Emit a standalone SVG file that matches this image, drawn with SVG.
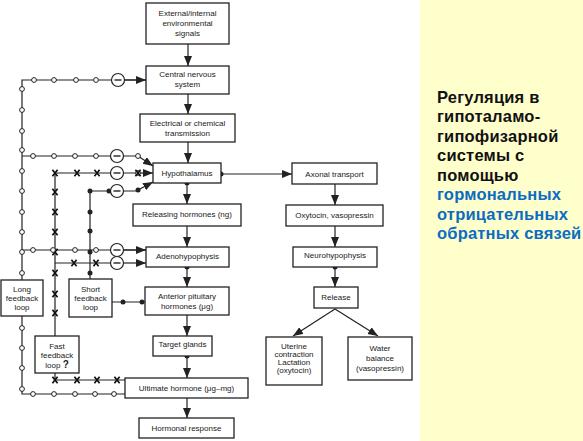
<svg xmlns="http://www.w3.org/2000/svg" xmlns:xlink="http://www.w3.org/1999/xlink" width="583" height="441" viewBox="0 0 583 441">
<style>
.box{fill:#fff;stroke:#222;stroke-width:1.3}
.t{font-family:"Liberation Sans",Arial,sans-serif;font-size:8px;fill:#1a1a1a;text-anchor:middle}
.ln{stroke:#222;stroke-width:1.2;fill:none}
.ar{stroke:#222;stroke-width:1.2;fill:none;marker-end:url(#ah)}
.rt{font-family:"Liberation Sans",Arial,sans-serif;font-size:16.5px;font-weight:bold;letter-spacing:0.2px}
</style>
<defs>
<marker id="ah" markerUnits="userSpaceOnUse" markerWidth="11" markerHeight="9" refX="10" refY="4" orient="auto">
<path d="M0,0 L10,4 L0,8 z" fill="#222"/>
</marker>
<g id="oc"><circle r="2.4" fill="#fff" stroke="#222" stroke-width="1"/></g>
<g id="dt"><circle r="2.5" fill="#222"/></g>
<g id="xm"><path d="M-2.6,-3.2 L2.6,3.2 M2.6,-3.2 L-2.6,3.2" stroke="#111" stroke-width="1.7"/></g>
<g id="mn"><circle r="6.5" fill="#fff" stroke="#222" stroke-width="1.2"/><line x1="-3.5" y1="0" x2="3.5" y2="0" stroke="#222" stroke-width="1.4"/></g>
</defs>
<rect x="0" y="0" width="583" height="441" fill="#fff"/>
<rect x="420" y="0" width="163" height="441" fill="#FFFFCC"/>

<g id="connectors">
<!-- main column -->
<line class="ar" x1="188" y1="44" x2="188" y2="66"/>
<line class="ar" x1="188" y1="94" x2="188" y2="114"/>
<line class="ar" x1="188" y1="142" x2="188" y2="163"/>
<line class="ar" x1="187" y1="183" x2="187" y2="204"/>
<line class="ar" x1="187" y1="226" x2="187" y2="247"/>
<line class="ar" x1="187" y1="267" x2="187" y2="287"/>
<line class="ar" x1="187" y1="315" x2="187" y2="336"/>
<line class="ar" x1="187" y1="356" x2="187" y2="378"/>
<line class="ar" x1="187" y1="398" x2="187" y2="418"/>
<use href="#dt" x="187" y="183"/>
<use href="#dt" x="187" y="267"/>
<use href="#dt" x="187" y="356"/>
<!-- right column -->
<line class="ar" x1="221" y1="174" x2="292" y2="174"/>
<use href="#dt" x="221" y="174"/>
<line class="ar" x1="335" y1="184" x2="335" y2="205"/>
<line class="ar" x1="335" y1="226" x2="335" y2="247"/>
<line class="ar" x1="335" y1="267" x2="335" y2="287"/>
<use href="#dt" x="335" y="267"/>
<line class="ar" x1="335" y1="309" x2="293" y2="336"/>
<line class="ar" x1="335" y1="309" x2="378" y2="336"/>

<!-- long loop (open circles) -->
<path class="ln" d="M22,280 L22,80 L146,80"/>
<line class="ar" x1="124" y1="80" x2="146" y2="80"/>
<path class="ln" d="M22,156 L138,156"/>
<line class="ar" x1="138" y1="156" x2="153" y2="166"/>
<path class="ln" d="M22,250 L146,250"/>
<line class="ar" x1="124" y1="250" x2="146" y2="250"/>
<path class="ln" d="M22,316 L22,394 L125,394"/>
<use href="#oc" x="34" y="80"/><use href="#oc" x="54" y="80"/><use href="#oc" x="76" y="80"/><use href="#oc" x="96" y="80"/>
<use href="#mn" x="118" y="80"/>
<use href="#oc" x="33" y="156"/><use href="#oc" x="54" y="156"/><use href="#oc" x="75" y="156"/><use href="#oc" x="96" y="156"/>
<use href="#mn" x="117" y="156"/><use href="#oc" x="138" y="156"/>
<use href="#oc" x="22" y="89"/><use href="#oc" x="22" y="110"/><use href="#oc" x="22" y="131"/><use href="#oc" x="22" y="150"/>
<use href="#oc" x="22" y="171"/><use href="#oc" x="22" y="191"/><use href="#oc" x="22" y="212"/><use href="#oc" x="22" y="232"/>
<use href="#oc" x="22" y="252"/><use href="#oc" x="22" y="273"/>
<use href="#oc" x="22" y="328"/><use href="#oc" x="22" y="348"/><use href="#oc" x="22" y="368"/><use href="#oc" x="22" y="389"/>
<use href="#oc" x="33" y="394"/><use href="#oc" x="54" y="394"/><use href="#oc" x="75" y="394"/><use href="#oc" x="95" y="394"/><use href="#oc" x="114" y="394"/>

<!-- fast loop (crosses) -->
<path class="ln" d="M55,336 L55,173 L138,173"/>
<line class="ar" x1="138" y1="173" x2="153" y2="173"/>
<path class="ln" d="M55,263 L124,263"/>
<line class="ar" x1="124" y1="263" x2="146" y2="263"/>
<path class="ln" d="M55,373 L55,380 L125,380"/>

<!-- short loop (filled dots) -->
<path class="ln" d="M90,279 L90,191 L138,191"/>
<line class="ar" x1="138" y1="190" x2="153" y2="182"/>
<path class="ln" d="M112,302 L145,302"/>

<!-- markers drawn over lines -->
<use href="#xm" x="55" y="173"/><use href="#xm" x="77" y="173"/><use href="#xm" x="97" y="173"/>
<use href="#mn" x="117" y="173"/><use href="#oc" x="138" y="173"/><use href="#xm" x="138" y="173"/>
<use href="#xm" x="55" y="192"/><use href="#xm" x="55" y="212"/><use href="#xm" x="55" y="232"/><use href="#xm" x="55" y="252"/>
<use href="#xm" x="55" y="273"/><use href="#xm" x="55" y="294"/><use href="#xm" x="55" y="313"/>
<use href="#xm" x="74" y="263"/><use href="#xm" x="96" y="263"/><use href="#mn" x="117" y="263"/>
<use href="#xm" x="55" y="380"/><use href="#xm" x="77" y="380"/><use href="#xm" x="97" y="380"/><use href="#xm" x="117" y="380"/>

<use href="#dt" x="90" y="191"/><use href="#dt" x="109" y="191"/><use href="#mn" x="117" y="191"/><use href="#dt" x="138" y="190"/>
<use href="#dt" x="90" y="212"/><use href="#dt" x="90" y="231"/><use href="#dt" x="90" y="252"/><use href="#dt" x="90" y="273"/>
<use href="#dt" x="123" y="302"/><use href="#dt" x="142" y="302"/>

<use href="#oc" x="33" y="250"/><use href="#oc" x="53" y="250"/><use href="#oc" x="75" y="250"/><use href="#oc" x="96" y="250"/>
<use href="#mn" x="117" y="250"/>
</g>

<g id="n-external"><rect class="box" x="146" y="3" width="83" height="41"/>
<text class="t" x="187.5" y="16">External/internal</text><text class="t" x="187.5" y="26">environmental</text><text class="t" x="187.5" y="36">signals</text></g>
<g id="n-cns"><rect class="box" x="146" y="66" width="83" height="28"/>
<text class="t" x="187.5" y="77">Central nervous</text><text class="t" x="187.5" y="86.5">system</text></g>
<g id="n-trans"><rect class="box" x="140" y="114" width="95" height="28"/>
<text class="t" x="187.5" y="126">Electrical or chemical</text><text class="t" x="187.5" y="136">transmission</text></g>
<g id="n-hypo"><rect class="box" x="153" y="163" width="68" height="20"/>
<text class="t" x="187" y="175.5">Hypothalamus</text></g>
<g id="n-rel"><rect class="box" x="133" y="204" width="108" height="22"/>
<text class="t" x="187" y="217">Releasing hormones (ng)</text></g>
<g id="n-adeno"><rect class="box" x="146" y="247" width="83" height="20"/>
<text class="t" x="187.5" y="258.5">Adenohypophysis</text></g>
<g id="n-ant"><rect class="box" x="145" y="287" width="84" height="28"/>
<text class="t" x="187" y="299">Anterior pituitary</text><text class="t" x="187" y="308.5">hormones (μg)</text></g>
<g id="n-target"><rect class="box" x="153" y="336" width="59" height="20"/>
<text class="t" x="182.5" y="347">Target glands</text></g>
<g id="n-ult"><rect class="box" x="125" y="378" width="123" height="20"/>
<text class="t" x="186.5" y="391">Ultimate hormone (μg–mg)</text></g>
<g id="n-resp"><rect class="box" x="139" y="418" width="95" height="20"/>
<text class="t" x="186.5" y="431">Hormonal response</text></g>
<g id="n-long"><rect class="box" x="1" y="280" width="42" height="36"/>
<text class="t" x="22" y="292">Long</text><text class="t" x="22" y="301">feedback</text><text class="t" x="22" y="310">loop</text></g>
<g id="n-short"><rect class="box" x="69" y="279" width="43" height="38"/>
<text class="t" x="90.5" y="292">Short</text><text class="t" x="90.5" y="301">feedback</text><text class="t" x="90.5" y="310">loop</text></g>
<g id="n-fast"><rect class="box" x="35" y="336" width="44" height="37"/>
<text class="t" x="57" y="349">Fast</text><text class="t" x="57" y="358">feedback</text><text class="t" x="57" y="367.5">loop <tspan font-weight="bold" font-size="10px">?</tspan></text></g>
<g id="n-axonal"><rect class="box" x="292" y="163" width="85" height="21"/>
<text class="t" x="334.5" y="177">Axonal transport</text></g>
<g id="n-oxy"><rect class="box" x="286" y="205" width="97" height="21"/>
<text class="t" x="334.5" y="218">Oxytocin, vasopressin</text></g>
<g id="n-neuro"><rect class="box" x="293" y="247" width="84" height="20"/>
<text class="t" x="335" y="257.5">Neurohypophysis</text></g>
<g id="n-release"><rect class="box" x="314" y="287" width="44" height="21"/>
<text class="t" x="336" y="300">Release</text></g>
<g id="n-uterine"><rect class="box" x="266" y="337" width="56" height="48"/>
<text class="t" x="294" y="349">Uterine</text><text class="t" x="294" y="357">contraction</text><text class="t" x="294" y="365">Lactation</text><text class="t" x="294" y="373">(oxytocin)</text></g>
<g id="n-water"><rect class="box" x="348" y="337" width="64" height="43"/>
<text class="t" x="380" y="351">Water</text><text class="t" x="380" y="361">balance</text><text class="t" x="380" y="371">(vasopressin)</text></g>

<g id="caption">
<text class="rt" x="437" y="102.5" fill="#111">Регуляция в</text>
<text class="rt" x="437" y="122" fill="#111">гипоталамо-</text>
<text class="rt" x="437" y="141.5" fill="#111">гипофизарной</text>
<text class="rt" x="437" y="161" fill="#111">системы с</text>
<text class="rt" x="437" y="180.5" fill="#111">помощью</text>
<text class="rt" x="437" y="200" fill="#0A6CC4">гормональных</text>
<text class="rt" x="437" y="219.5" fill="#0A6CC4">отрицательных</text>
<text class="rt" x="437" y="239" fill="#0A6CC4">обратных связей</text>
</g>
</svg>
